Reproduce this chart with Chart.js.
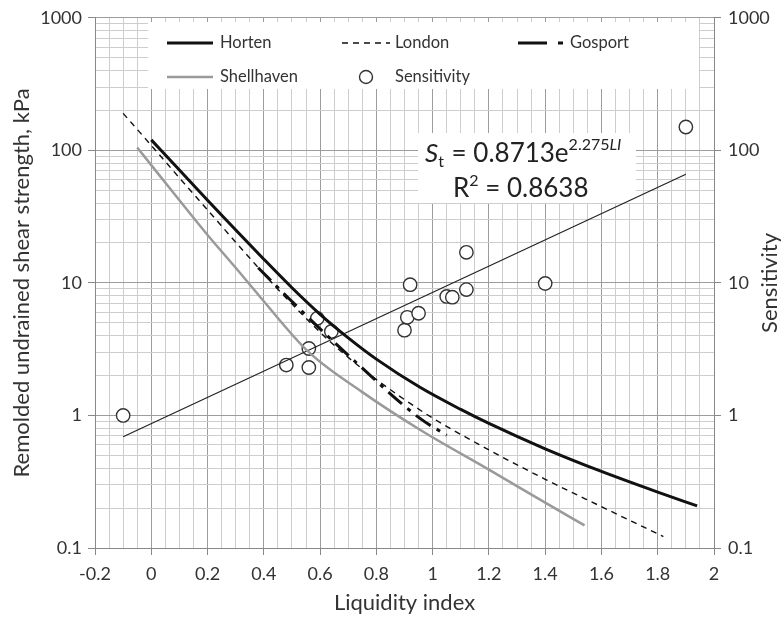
<!DOCTYPE html>
<html>
<head>
<meta charset="utf-8">
<title>Remolded undrained shear strength and sensitivity vs liquidity index</title>
<script src="https://cdn.jsdelivr.net/npm/chart.js@4.4.1/dist/chart.umd.min.js"></script>
<style>
  html, body { margin: 0; padding: 0; background: #fff; }
  #wrap { position: relative; width: 781px; height: 619px; }
</style>
</head>
<body>
<div id="wrap"><canvas id="chart"></canvas></div>
<script>
/* values: LI = liquidity index, su in kPa, St = sensitivity */

const hortenLI = [0, 0.1, 0.2, 0.4, 0.5, 0.6, 0.7, 0.8, 0.955, 1.1, 1.2, 1.4, 1.6, 1.8, 1.94];
const hortenSu = [120, 71, 42, 15.1, 9.2, 5.8, 3.85, 2.66, 1.63, 1.11, 0.87, 0.56, 0.378, 0.264, 0.208];

const londonLI = [-0.1, 0, 0.1, 0.2, 0.35, 0.46, 0.67, 0.955, 1.2, 1.4, 1.6, 1.82];
const londonSu = [190, 109, 62, 35.5, 15.4, 8.5, 3.1, 1.1, 0.55, 0.33, 0.205, 0.122];

const gosportLI = [0.38, 0.49, 0.6, 0.72, 0.955, 1.05];
const gosportSu = [13, 7.6, 4.5, 2.6, 0.95, 0.71];

const shellLI = [-0.05, 0.1, 0.2, 0.3, 0.39, 0.56, 0.75, 0.955, 1.2, 1.4, 1.54];
const shellSu = [105, 42, 23, 13, 7.7, 3.0, 1.5, 0.78, 0.39, 0.22, 0.148];

const sensLI = [-0.1, 0.48, 0.56, 0.56, 0.59, 0.64, 0.90, 0.91, 0.92, 0.95, 1.05, 1.07, 1.12, 1.12, 1.40, 1.90];
const sensSt = [1.0, 2.4, 2.3, 3.2, 5.4, 4.3, 4.4, 5.5, 9.7, 5.9, 7.9, 7.8, 8.9, 17, 9.9, 150];

// fitted trend St = 0.8713e^(2.275 LI), end points as drawn
const trendLI = [-0.1, 1.9];
const trendSt = [0.69, 66];

const xTickLabels = ['-0.2', '0', '0.2', '0.4', '0.6', '0.8', '1', '1.2', '1.4', '1.6', '1.8', '2'];
const yTickLabels = ['0.1', '1', '10', '100', '1000'];

const FONT = 'Lato, "Open Sans", sans-serif';
const TEXT = '#333';
const GRID_MAJOR = '#9c9c9c';
const GRID_MINOR = '#cdcdcd';

// grid positions: every 0.05 along LI, 1..9 per decade on the log axes
const xMajor = xTickLabels.map(Number);
const xGrid = [];
for (let i = 0; i <= 44; i++) xGrid.push(Math.round((xMajor[0] + i * 0.05) * 100) / 100);
const yMajor = yTickLabels.map(Number);
const yGrid = [];
yMajor.forEach((d, i) => {
  if (i === yMajor.length - 1) { yGrid.push(d); return; }
  for (let m = 1; m <= 9; m++) yGrid.push(Math.round(d * m * 1000) / 1000);
});

const isMajorX = (v) => xMajor.some((m) => Math.abs(m - v) < 1e-6);
const isDecade = (v) => yMajor.some((m) => Math.abs(m - v) < 1e-9);
const pairs = (xs, ys) => xs.map((x, i) => ({ x, y: ys[i] }));

const datasets = [
  {
    label: 'Horten', data: pairs(hortenLI, hortenSu), yAxisID: 'y',
    showLine: true, borderColor: '#111', borderWidth: 3, pointRadius: 0,
    cubicInterpolationMode: 'monotone',
  },
  {
    label: 'London', data: pairs(londonLI, londonSu), yAxisID: 'y',
    showLine: true, borderColor: '#111', borderWidth: 1.4, borderDash: [6, 5], pointRadius: 0,
    cubicInterpolationMode: 'monotone',
  },
  {
    label: 'Gosport', data: pairs(gosportLI, gosportSu), yAxisID: 'y',
    showLine: true, borderColor: '#111', borderWidth: 3, borderDash: [18, 7, 4, 7], pointRadius: 0,
    cubicInterpolationMode: 'monotone',
  },
  {
    label: 'Shellhaven', data: pairs(shellLI, shellSu), yAxisID: 'y',
    showLine: true, borderColor: '#9a9a9a', borderWidth: 2.5, pointRadius: 0,
    cubicInterpolationMode: 'monotone',
  },
  {
    label: 'Trend', data: pairs(trendLI, trendSt), yAxisID: 'y1',
    showLine: true, borderColor: '#222', borderWidth: 1.2, pointRadius: 0,
  },
  {
    label: 'Sensitivity', data: pairs(sensLI, sensSt), yAxisID: 'y1',
    showLine: false, pointStyle: 'circle', pointRadius: 6.7,
    borderColor: '#333', borderWidth: 1.4, backgroundColor: '#fff',
  },
];

// legend panel + fitted equation, drawn over the grid but under the data
const legendRows = [
  { label: 'Horten', kind: 'line', x0: 167, x1: 213, tx: 220, row: 0 },
  { label: 'London', kind: 'dash', x0: 342, x1: 390, tx: 395, row: 0 },
  { label: 'Gosport', kind: 'gosport', x0: 518, x1: 563, tx: 570, row: 0 },
  { label: 'Shellhaven', kind: 'gray', x0: 167, x1: 213, tx: 220, row: 1 },
  { label: 'Sensitivity', kind: 'circle', x0: 366, x1: 366, tx: 395, row: 1 },
];

const overlayPlugin = {
  id: 'overlay',
  beforeDatasetsDraw(chart) {
    const ctx = chart.ctx;
    const rowY = [43, 77];
    ctx.save();
    ctx.fillStyle = '#fff';
    ctx.fillRect(148, 22, 551, 67);
    ctx.fillRect(418, 133, 218, 70);

    legendRows.forEach((e) => {
      const y = rowY[e.row];
      ctx.setLineDash([]);
      ctx.strokeStyle = '#111';
      if (e.kind === 'circle') {
        ctx.lineWidth = 1.4;
        ctx.strokeStyle = '#333';
        ctx.beginPath();
        ctx.arc(e.x0, y, 6.5, 0, Math.PI * 2);
        ctx.stroke();
      } else if (e.kind === 'gosport') {
        ctx.lineWidth = 3;
        ctx.beginPath();
        ctx.moveTo(e.x0, y); ctx.lineTo(e.x0 + 29, y);
        ctx.moveTo(e.x1 - 5, y); ctx.lineTo(e.x1, y);
        ctx.stroke();
      } else {
        ctx.lineWidth = e.kind === 'dash' ? 1.4 : (e.kind === 'gray' ? 2.5 : 3);
        if (e.kind === 'gray') ctx.strokeStyle = '#9a9a9a';
        if (e.kind === 'dash') ctx.setLineDash([6, 5]);
        ctx.beginPath();
        ctx.moveTo(e.x0, y); ctx.lineTo(e.x1, y);
        ctx.stroke();
      }
      ctx.setLineDash([]);
      ctx.fillStyle = TEXT;
      ctx.font = '16.5px ' + FONT;
      ctx.textBaseline = 'middle';
      ctx.textAlign = 'left';
      ctx.fillText(e.label, e.tx, y);
    });

    // St = 0.8713e^(2.275 LI)
    ctx.fillStyle = '#222';
    ctx.textBaseline = 'alphabetic';
    let x = 425;
    const base = 162;
    ctx.font = 'italic 26px ' + FONT;
    ctx.fillText('S', x, base); x += ctx.measureText('S').width;
    ctx.font = '16px ' + FONT;
    ctx.fillText('t', x, base + 5); x += ctx.measureText('t').width + 1;
    ctx.font = '26px ' + FONT;
    ctx.fillText(' = 0.8713e', x, base); x += ctx.measureText(' = 0.8713e').width;
    ctx.font = '16px ' + FONT;
    ctx.fillText('2.275', x, base - 12); x += ctx.measureText('2.275').width;
    ctx.font = 'italic 16px ' + FONT;
    ctx.fillText('LI', x, base - 12);

    let x2 = 453;
    const base2 = 197;
    ctx.font = '26px ' + FONT;
    ctx.fillText('R', x2, base2); x2 += ctx.measureText('R').width;
    ctx.font = '16px ' + FONT;
    ctx.fillText('2', x2, base2 - 11); x2 += ctx.measureText('2').width;
    ctx.font = '26px ' + FONT;
    ctx.fillText(' = 0.8638', x2, base2);
    ctx.restore();
  },
  afterDraw(chart) {
    // right axis title reads bottom-to-top like the left one
    const ctx = chart.ctx;
    const area = chart.chartArea;
    ctx.save();
    ctx.translate(770, (area.top + area.bottom) / 2);
    ctx.rotate(-Math.PI / 2);
    ctx.fillStyle = TEXT;
    ctx.font = '22px ' + FONT;
    ctx.textAlign = 'center';
    ctx.textBaseline = 'middle';
    ctx.fillText('Sensitivity', 0, 0);
    ctx.restore();
  },
};

const logAxis = (position) => ({
  type: 'logarithmic',
  position,
  min: yMajor[0],
  max: yMajor[yMajor.length - 1],
  afterBuildTicks: (scale) => { scale.ticks = yGrid.map((v) => ({ value: v })); },
  ticks: {
    autoSkip: false,
    padding: position === 'left' ? 6 : 7,
    color: TEXT,
    font: { family: FONT, size: 18 },
    callback: (v) => (isDecade(v) ? yTickLabels[yMajor.findIndex((m) => Math.abs(m - v) < 1e-9)] : ''),
  },
  border: { display: true, color: '#888', width: 1 },
});

const yLeft = logAxis('left');
yLeft.grid = {
  color: (c) => (c.tick && isDecade(c.tick.value) ? GRID_MAJOR : GRID_MINOR),
  tickColor: (c) => (c.tick && isDecade(c.tick.value) ? '#888' : 'rgba(0,0,0,0)'),
  tickLength: 7,
};
yLeft.title = {
  display: true, text: 'Remolded undrained shear strength, kPa', color: TEXT,
  font: { family: FONT, size: 22, lineHeight: 1 }, padding: { top: 11, bottom: 0 },
};
yLeft.afterFit = (scale) => { scale.width = 95; };

const yRight = logAxis('right');
yRight.grid = {
  drawOnChartArea: false,
  tickColor: (c) => (c.tick && isDecade(c.tick.value) ? '#888' : 'rgba(0,0,0,0)'),
  tickLength: 7,
};
yRight.afterFit = (scale) => { scale.width = 67; };

new Chart(document.getElementById('chart'), {
  type: 'scatter',
  data: { datasets },
  options: {
    responsive: true,
    maintainAspectRatio: false,
    devicePixelRatio: 1,
    animation: false,
    layout: { padding: { top: 17, left: 0, right: 0, bottom: 0 } },
    plugins: { legend: { display: false }, tooltip: { enabled: false } },
    scales: {
      x: {
        type: 'linear',
        min: xMajor[0],
        max: xMajor[xMajor.length - 1],
        afterBuildTicks: (scale) => { scale.ticks = xGrid.map((v) => ({ value: v })); },
        afterFit: (scale) => { scale.height = 71; },
        ticks: {
          autoSkip: false, maxRotation: 0, padding: 8, color: TEXT,
          font: { family: FONT, size: 18 },
          callback: (v) => (isMajorX(v) ? xTickLabels[xMajor.findIndex((m) => Math.abs(m - v) < 1e-6)] : ''),
        },
        grid: {
          color: (c) => (c.tick && isMajorX(c.tick.value) ? GRID_MAJOR : GRID_MINOR),
          tickColor: (c) => (c.tick && isMajorX(c.tick.value) ? '#888' : 'rgba(0,0,0,0)'),
          tickLength: 7,
        },
        border: { display: true, color: '#888', width: 1 },
        title: {
          display: true, text: 'Liquidity index', color: TEXT,
          font: { family: FONT, size: 22, lineHeight: 1 }, padding: { top: 0, bottom: 5 },
        },
      },
      y: yLeft,
      y1: yRight,
    },
  },
  plugins: [overlayPlugin],
});
</script>
</body>
</html>
